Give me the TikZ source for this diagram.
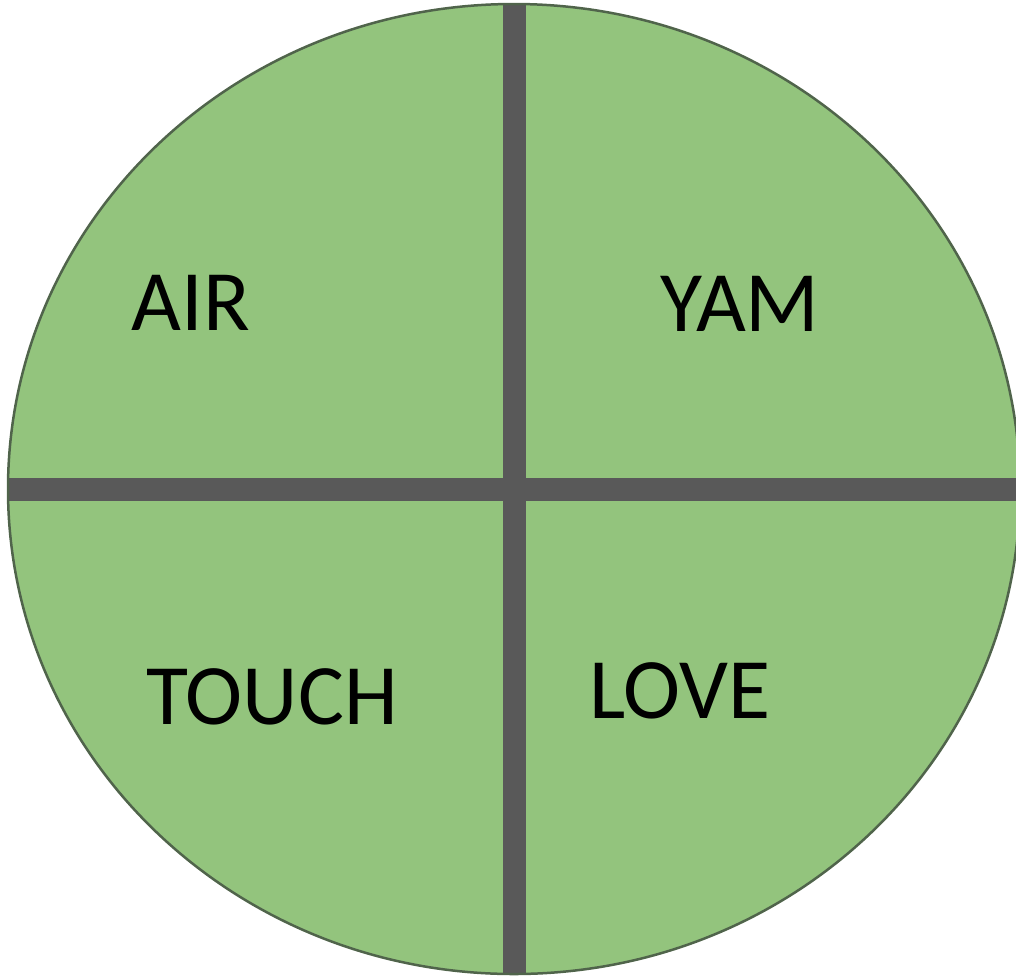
\documentclass[tikz,border=0pt]{standalone}
\usepackage{fontspec}
\setmainfont{Carlito}
\definecolor{leafgreen}{RGB}{147,196,125}
\definecolor{bargray}{RGB}{89,89,89}
\definecolor{rimgray}{RGB}{80,100,75}

\begin{document}
\begin{tikzpicture}[x=0.2mm,y=-0.2mm,font=\fontsize{49}{58}\selectfont,
  word/.style={anchor=base,inner sep=0pt,text=black},
  bar/.style={draw=bargray,line width=4.6mm}]
  \useasboundingbox (0,0) rectangle (1016,975);

  % Disc
  \path[fill=leafgreen] (514,489) ellipse[x radius=506,y radius=485];

  % Cross
  \begin{scope}
    \clip (514,489) ellipse[x radius=506,y radius=485];
    \coordinate (top) at (514,0);
    \coordinate (bottom) at (514,975);
    \coordinate (left) at (0,489);
    \coordinate (right) at (1030,489);
    \path[bar] (top) -- (bottom);
    \path[bar] (left) -- (right);
  \end{scope}
  \path[draw=rimgray,line width=0.5mm] (514,489) ellipse[x radius=506,y radius=485];

  % Quarters
  \node[word] (air) at (191,330) {AIR};
  \node[word] (yam) at (740,331) {YAM};
  \node[word] (touch) at (272,724) {TOUCH};
  \node[word] (love) at (680,718) {LOVE};
\end{tikzpicture}
\end{document}
